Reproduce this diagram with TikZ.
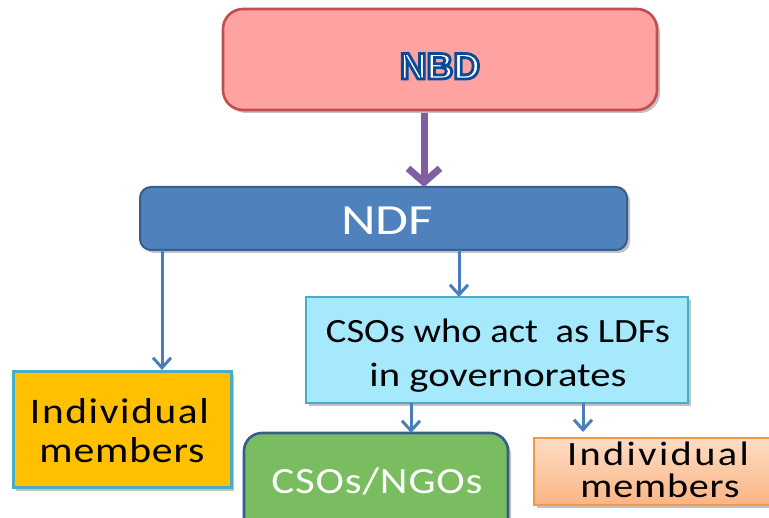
\documentclass[tikz,border=0pt]{standalone}
\usepackage{fontspec}
\usepackage{graphicx}
\setmainfont{Carlito}
\newfontfamily\nbdfont{Liberation Sans}
\usetikzlibrary{arrows.meta,shadows}
\definecolor{nbdfill}{HTML}{FFA2A2}
\definecolor{nbdline}{HTML}{C0504D}
\definecolor{ndffill}{HTML}{4F81BD}
\definecolor{ndfline}{HTML}{385D8A}
\definecolor{ldffill}{HTML}{A6E9FC}
\definecolor{cyanline}{HTML}{4BACC6}
\definecolor{goldfill}{HTML}{FFC000}
\definecolor{greenfill}{HTML}{79BD60}
\definecolor{peachtop}{HTML}{FEDCC4}
\definecolor{peachbot}{HTML}{FAB584}
\definecolor{orangeline}{HTML}{F79646}
\definecolor{arrowblue}{HTML}{4A7EBB}
\definecolor{arrowpurple}{HTML}{7F5FA2}
\newcommand\outlinedtext[1]{{\color{white}\special{pdf:literal direct 2 Tr 2.8 w 0.04 0.29 0.59 RG}#1\special{pdf:literal direct 0 Tr}}}
% stretch a text horizontally to a given width, keeping its height
\newcommand\fitw[2]{\resizebox{#1}{\height}{#2}}
\begin{document}
\begin{tikzpicture}[x=1pt,y=-1pt,
  boxbase/.style={inner sep=0pt, outer sep=0pt, drop shadow={shadow xshift=3pt, shadow yshift=-3pt, fill=black!40, opacity=0.6}},
  nbdbox/.style={boxbase, draw=nbdline, line width=2.6pt, fill=nbdfill, rounded corners=20pt},
  ndfbox/.style={boxbase, draw=ndfline, line width=2pt, fill=ndffill, rounded corners=11pt},
  ldfbox/.style={boxbase, draw=cyanline, line width=2.6pt, fill=ldffill},
  goldbox/.style={boxbase, draw=cyanline, line width=3pt, fill=goldfill},
  greenbox/.style={boxbase, draw=ndfline, line width=2.6pt, fill=greenfill, rounded corners=18pt},
  peachbox/.style={boxbase, draw=orangeline, line width=2.6pt, top color=peachtop, bottom color=peachbot},
  lbl/.style={inner sep=0pt, anchor=base},
  bluearrow/.style={draw=arrowblue, line width=3pt, -{Straight Barb[length=10pt,width=18pt]}},
  purplearrow/.style={draw=arrowpurple, line width=7pt, -{Straight Barb[length=14pt,width=32pt]}}
]
\useasboundingbox (0,0) rectangle (769,518);

% boxes
\node[nbdbox, minimum width=434pt, minimum height=101pt] (nbd) at (440,59.5) {};
\node[ndfbox, minimum width=487pt, minimum height=63pt] (ndf) at (383.5,218.5) {};
\node[ldfbox, minimum width=382pt, minimum height=106pt] (ldf) at (497,350) {};
\node[goldbox, minimum width=218pt, minimum height=116pt] (indl) at (122,430) {};
\node[greenbox, minimum width=264pt, minimum height=112pt] (cso) at (376,489) {};
\node[peachbox, minimum width=270pt, minimum height=67pt] (indr) at (669,471.5) {};

% texts
\node[lbl] (nbdtxt) at (440,79) {\nbdfont\bfseries\fontsize{37}{40}\selectfont\outlinedtext{NBD}};
\node[lbl, text=white] (ndftxt) at (387,235) {\fontsize{43}{48}\selectfont\fitw{92pt}{NDF}};
\node[lbl] (ldf1) at (498,343) {\fontsize{34}{40}\selectfont\fitw{344pt}{CSOs who act\ \ as LDFs}};
\node[lbl] (ldf2) at (498,387) {\fontsize{34}{40}\selectfont\fitw{257pt}{in governorates}};
\node[lbl] (indl1) at (119.5,424) {\fontsize{36}{40}\selectfont\fitw{179pt}{\addfontfeatures{LetterSpace=4}Individual}};
\node[lbl] (indl2) at (122,463) {\fontsize{36}{40}\selectfont\fitw{165pt}{\addfontfeatures{LetterSpace=2}members}};
\node[lbl, text=white] (csotxt) at (377,494) {\fontsize{37}{40}\selectfont\fitw{211pt}{\addfontfeatures{LetterSpace=2}CSOs/NGOs}};
\node[lbl] (indr1) at (658,466) {\fontsize{34}{38}\selectfont\fitw{182pt}{\addfontfeatures{LetterSpace=6}Individual}};
\node[lbl] (indr2) at (660,498) {\fontsize{34}{38}\selectfont\fitw{159pt}{\addfontfeatures{LetterSpace=2}members}};

% connector x positions
\coordinate (xp) at (424,0);
\coordinate (xl) at (162,0);
\coordinate (xm) at (459,0);
\coordinate (xg) at (411,0);
\coordinate (xr) at (583,0);

% connectors
\draw[purplearrow] (nbd.south -| xp) ++(0,3) -- (ndf.north -| xp);
\draw[bluearrow] (ndf.south -| xl) -- ([yshift=2pt]indl.north -| xl);
\draw[bluearrow] (ndf.south -| xm) -- (ldf.north -| xm);
\draw[bluearrow] (ldf.south -| xg) -- (cso.north -| xg);
\draw[bluearrow] (ldf.south -| xr) -- ([yshift=6pt]indr.north -| xr);
\end{tikzpicture}
\end{document}
